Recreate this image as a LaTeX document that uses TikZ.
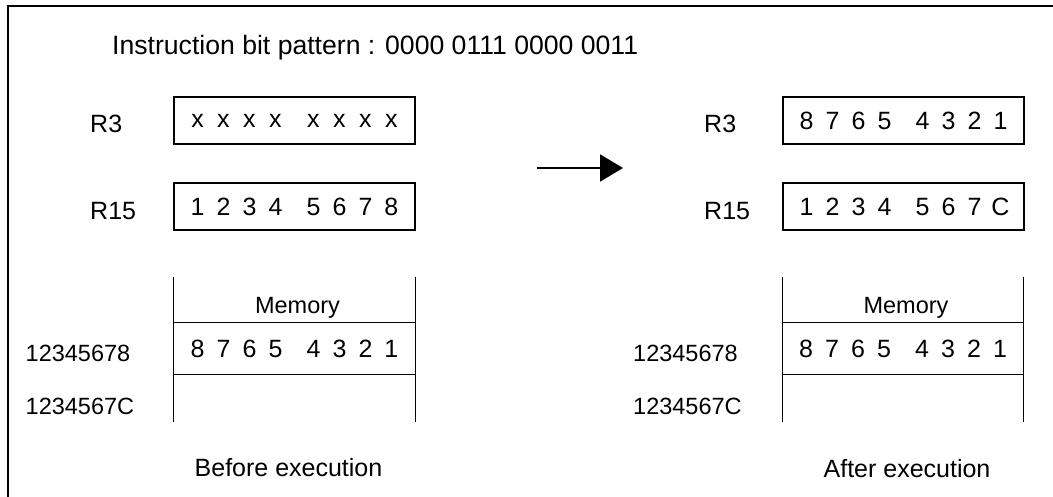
\documentclass[tikz,border=0pt]{standalone}
\usepackage{fontspec}
\setmainfont{Liberation Sans}
\usetikzlibrary{arrows.meta, positioning}
\newcommand{\celda}[1]{\makebox[26pt]{#1}}
\newcommand{\palabra}[8]{\celda{#1}\celda{#2}\celda{#3}\celda{#4}\hspace{12pt}\celda{#5}\celda{#6}\celda{#7}\celda{#8}}
\tikzset{
  etiq/.style={inner sep=0pt, font=\fontsize{25}{30}\selectfont},
  direccion/.style={etiq, font=\fontsize{23.5}{28}\selectfont},
  registro/.style={etiq, draw, line width=1.2pt, minimum width=241pt, minimum height=47pt},
  fila/.style={etiq, minimum width=241pt, minimum height=51pt},
  linea/.style={line width=1.3pt},
  marco/.style={line width=2.4pt},
  flecha/.style={-{Triangle[length=23pt, width=27pt]}, line width=2pt},
}

\begin{document}
\begin{tikzpicture}[x=1pt, y=-1pt]
  \useasboundingbox (0,0) rectangle (1053,497);
  \draw[marco] (8,497) -- (8,6) -- (1053,6);
  \node[etiq, anchor=base west, font=\fontsize{26.6}{30}\selectfont] (tit) at (112,55) {Instruction bit pattern : 0000 0111 0000 0011};
  % before execution
  \node[registro] (r3a) at (294.5,120.5) {\palabra{x}{x}{x}{x}{x}{x}{x}{x}};
  \node[registro] (r15a) at (294.5,206.5) {\palabra{1}{2}{3}{4}{5}{6}{7}{8}};
  \node[etiq, anchor=base west] (er3a) at (90,133) {R3};
  \node[etiq, anchor=base west] (er15a) at (90,220) {R15};
  \node[fila] (mema) at (294.5,348.5) {\palabra{8}{7}{6}{5}{4}{3}{2}{1}};
  \node[direccion, anchor=base west] (d1a) at (25.5,361) {12345678};
  \node[direccion, anchor=base west] (d2a) at (25.5,414) {1234567C};
  \node[etiq, anchor=base] (antes) at (288.5,476) {Before execution};
  % after execution
  \node[registro] (r3b) at (903.5,120.5) {\palabra{8}{7}{6}{5}{4}{3}{2}{1}};
  \node[registro] (r15b) at (903.5,206.5) {\palabra{1}{2}{3}{4}{5}{6}{7}{C}};
  \node[etiq, anchor=base west] (er3b) at (704,133) {R3};
  \node[etiq, anchor=base west] (er15b) at (704,220) {R15};
  \node[fila] (memb) at (903,348.5) {\palabra{8}{7}{6}{5}{4}{3}{2}{1}};
  \node[direccion, anchor=base west] (d1b) at (633,361) {12345678};
  \node[direccion, anchor=base west] (d2b) at (633,414) {1234567C};
  \node[etiq, anchor=base] (despues) at (907,477) {After execution};
  % memory columns
  \foreach \m in {mema,memb} {
    \draw[linea] (\m.north west) -- (\m.north east);
    \draw[linea] (\m.south west) -- (\m.south east);
    \draw[linea] ([yshift=46pt]\m.north west) -- ([yshift=-48pt]\m.south west);
    \draw[linea] ([yshift=46pt]\m.north east) -- ([yshift=-48pt]\m.south east);
    \node[direccion, anchor=base] (\m-tit) at ([xshift=3pt, yshift=9pt]\m.north) {Memory};
  }
  \coordinate (ini) at (537,168);
  \coordinate (fin) at (623,168);
  \draw[flecha] (ini) -- (fin);
\end{tikzpicture}
\end{document}
